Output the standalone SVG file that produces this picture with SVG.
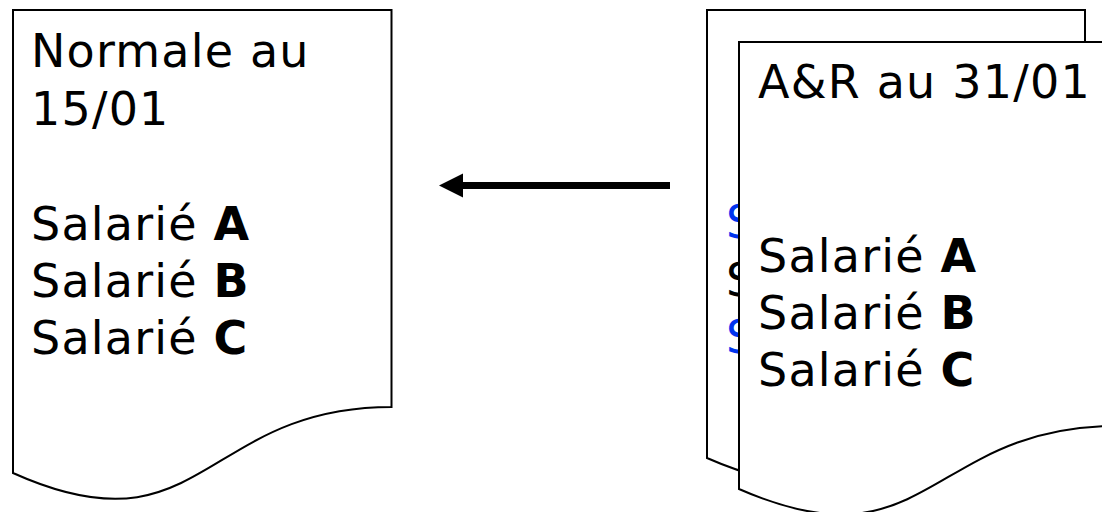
<svg xmlns="http://www.w3.org/2000/svg" width="1102" height="512" viewBox="0 0 1102 512">
<style>
.doc{fill:#fff;stroke:#000;stroke-width:2;stroke-linejoin:miter}
.t{font-family:"DejaVu Sans","Verdana",sans-serif;font-size:46px;letter-spacing:1.2px;fill:#000}
.b{font-weight:bold}
.blue{fill:#0033EE}
</style>
<rect width="1102" height="512" fill="#fff"/>
<g id="doc-normale">
<path class="doc" d="M13,10 L391.5,10 L391.5,407 C202,407 202,558 13,473 Z"/>
<text class="t" x="31" y="67">Normale au</text>
<text class="t" x="31" y="125">15/01</text>
<text class="t" x="31" y="239.5">Salarié <tspan class="b">A</tspan></text>
<text class="t" x="31" y="296.5">Salarié <tspan class="b">B</tspan></text>
<text class="t" x="31" y="353.5">Salarié <tspan class="b">C</tspan></text>
</g>
<g id="doc-back">
<path class="doc" d="M707,10 L1085,10 L1085,395 C896,395 896,541 707,458 Z"/>
<text class="t blue" x="726" y="238">S</text>
<text class="t" x="726" y="296">S</text>
<text class="t blue" x="726" y="353">S</text>
</g>
<g id="doc-ar">
<path class="doc" d="M739,42 L1117,42 L1117,426 C928,426 928,572 739,489 Z"/>
<text class="t" x="758" y="98">A&amp;R au 31/01</text>
<text class="t" x="758" y="271.5">Salarié <tspan class="b">A</tspan></text>
<text class="t" x="758" y="328.5">Salarié <tspan class="b">B</tspan></text>
<text class="t" x="758" y="385.5">Salarié <tspan class="b">C</tspan></text>
</g>
<g id="connectors">
<line x1="670" y1="185.5" x2="460" y2="185.5" stroke="#000" stroke-width="7"/>
<polygon points="439,185.5 463,173.5 463,197.5" fill="#000"/>
</g>
</svg>
